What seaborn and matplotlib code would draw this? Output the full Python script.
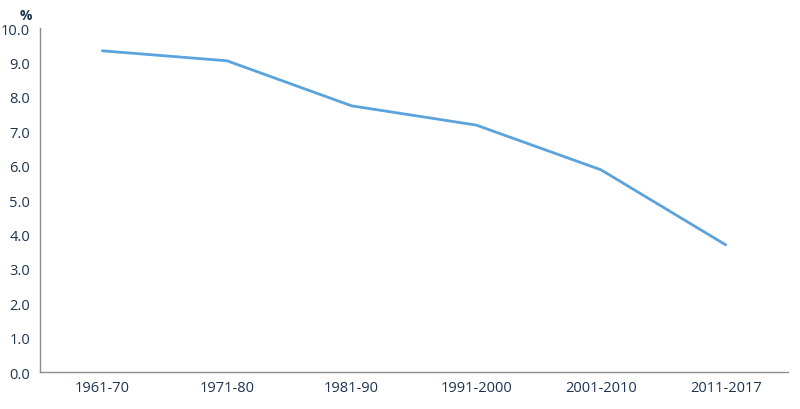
import matplotlib
matplotlib.use("Agg")
import matplotlib.pyplot as plt
import seaborn as sns
import pandas as pd
from matplotlib.ticker import FixedLocator, FormatStrFormatter

periods = ["1961-70", "1971-80", "1981-90", "1991-2000", "2001-2010", "2011-2017"]
rate = [9.34, 9.05, 7.74, 7.18, 5.88, 3.70]

df = pd.DataFrame({"period": periods, "rate": rate})

sns.set_style("white")
plt.rcParams["font.family"] = ["Open Sans", "DejaVu Sans"]
text_col = "#1f3350"
axis_col = "#8c8c8c"

fig = plt.figure(figsize=(8, 4.1), dpi=100)
ax = fig.add_axes([0.05, 0.09, 0.935, 0.839])
sns.lineplot(data=df, x="period", y="rate", ax=ax, color="#5ba3dc",
             linewidth=2.0, sort=False)

ax.set_xlim(-0.5, len(periods) - 0.5)
ax.set_ylim(0, 10)
ax.set_yticks([i for i in range(11)])
ax.yaxis.set_major_formatter(FormatStrFormatter("%.1f"))
ax.set_xticks(range(len(periods)))
ax.set_xticklabels(periods)
ax.xaxis.set_minor_locator(FixedLocator([i - 0.5 for i in range(len(periods) + 1)]))
ax.tick_params(axis="x", which="major", length=0, pad=6, labelsize=10.5, labelcolor=text_col)
ax.tick_params(axis="x", which="minor", length=4, width=1, color=axis_col)
ax.tick_params(axis="y", length=4, width=1, color=axis_col, pad=3, labelsize=10.5, labelcolor=text_col)
ax.set_xlabel("")
ax.set_ylabel("")
sns.despine(ax=ax)
for s in ["left", "bottom"]:
    ax.spines[s].set_color(axis_col)
    ax.spines[s].set_linewidth(1.0)

fig.text(0.024, 0.978, "%", ha="left", va="top", fontsize=10,
         fontweight="bold", color=text_col)

fig.savefig("out.png", dpi=100)
